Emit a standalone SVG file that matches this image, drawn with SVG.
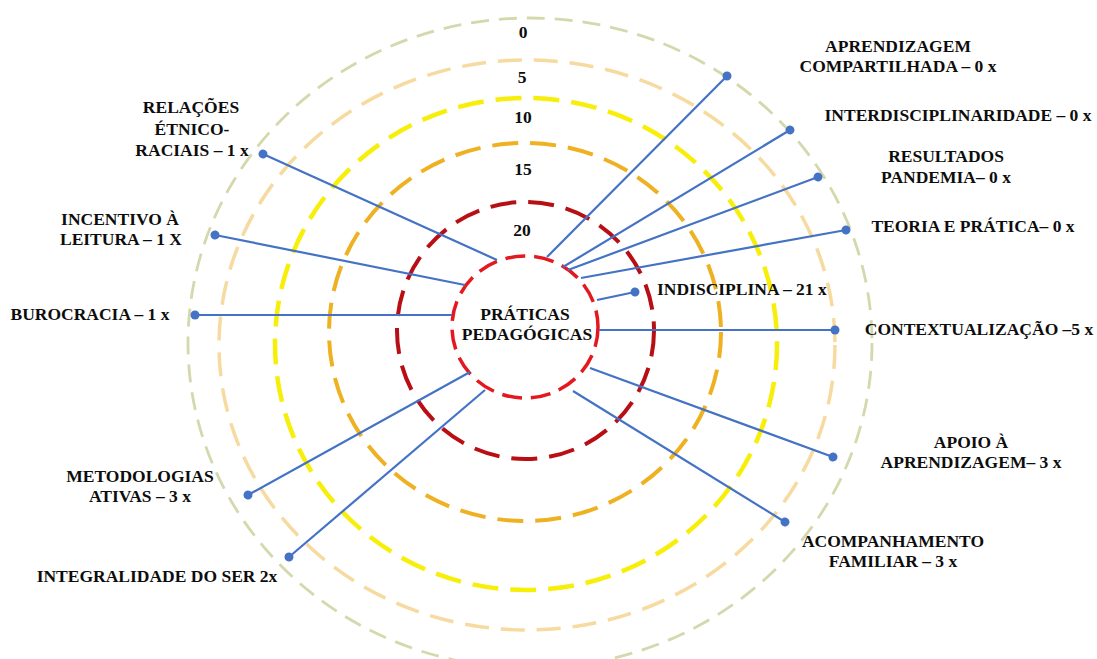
<svg xmlns="http://www.w3.org/2000/svg" width="1097" height="659" viewBox="0 0 1097 659">
<defs>
<style>
.lbl{font-family:"Liberation Serif","Times New Roman",serif;font-weight:bold;font-size:17.5px;fill:#0d0d0d;text-anchor:middle}
.st{text-anchor:start}
.ring{fill:none}
.conn{stroke:#4472C4;stroke-width:2.2;fill:none;marker-end:url(#dot)}
</style>
<marker id="dot" markerUnits="userSpaceOnUse" markerWidth="10" markerHeight="10" refX="5" refY="5" viewBox="0 0 10 10" orient="auto"><circle cx="5" cy="5" r="4.5" fill="#4472C4"/></marker>
</defs>
<rect width="1097" height="659" fill="#ffffff"/>
<g id="rings">
<ellipse class="ring" cx="530" cy="343" rx="342" ry="325" stroke="#D5D8AC" stroke-width="2.8" stroke-dasharray="18 10"/>
<ellipse class="ring" cx="527" cy="345" rx="308" ry="285" stroke="#F6DA9F" stroke-width="3.5" stroke-dasharray="24 12"/>
<ellipse class="ring" cx="526" cy="344" rx="251" ry="246" stroke="#F7EE0A" stroke-width="4.5" stroke-dasharray="26 12"/>
<ellipse class="ring" cx="525" cy="332" rx="196" ry="189" stroke="#EEB122" stroke-width="4" stroke-dasharray="26 12"/>
<ellipse class="ring" cx="525.5" cy="330.5" rx="128.5" ry="128.5" stroke="#B80F15" stroke-width="4" stroke-dasharray="26 12"/>
<text class="lbl" x="523" y="38">0</text>
<text class="lbl" x="522" y="83">5</text>
<text class="lbl" x="523" y="123">10</text>
<text class="lbl" x="523" y="175">15</text>
<text class="lbl" x="522" y="236">20</text>
</g>
<g id="center">
<ellipse class="ring" cx="525" cy="327" rx="73" ry="71" stroke="#E3191F" stroke-width="3.5" stroke-dasharray="20 9"/>
<text class="lbl" x="525" y="320">PRÁTICAS</text>
<text class="lbl" x="527" y="340">PEDAGÓGICAS</text>
</g>
<g id="connectors">
<line class="conn" x1="547" y1="257" x2="727" y2="76"/>
<line class="conn" x1="563" y1="267" x2="790" y2="130"/>
<line class="conn" x1="568" y1="270" x2="818" y2="177"/>
<line class="conn" x1="581" y1="278" x2="846" y2="230"/>
<line class="conn" x1="597" y1="300" x2="635" y2="292"/>
<line class="conn" x1="599" y1="330" x2="835" y2="330"/>
<line class="conn" x1="590" y1="368" x2="833" y2="457"/>
<line class="conn" x1="573" y1="391" x2="785" y2="522"/>
<line class="conn" x1="485" y1="390" x2="289" y2="557"/>
<line class="conn" x1="470" y1="372" x2="248" y2="495"/>
<line class="conn" x1="452" y1="315" x2="195" y2="315"/>
<line class="conn" x1="465" y1="285" x2="215" y2="235"/>
<line class="conn" x1="497" y1="260" x2="263" y2="154"/>
</g>
<g id="n-aprendizagem-compartilhada">
<text class="lbl" x="898" y="52">APRENDIZAGEM</text>
<text class="lbl" x="898" y="72">COMPARTILHADA – 0 x</text>
</g>
<g id="n-interdisciplinaridade">
<text class="lbl" x="958" y="121">INTERDISCIPLINARIDADE – 0 x</text>
</g>
<g id="n-resultados-pandemia">
<text class="lbl" x="946" y="162">RESULTADOS</text>
<text class="lbl" x="946" y="183">PANDEMIA– 0 x</text>
</g>
<g id="n-teoria-pratica">
<text class="lbl" x="973" y="232">TEORIA E PRÁTICA– 0 x</text>
</g>
<g id="n-indisciplina">
<text class="lbl st" x="657" y="295">INDISCIPLINA – 21 x</text>
</g>
<g id="n-contextualizacao">
<text class="lbl" x="979" y="335">CONTEXTUALIZAÇÃO –5 x</text>
</g>
<g id="n-apoio">
<text class="lbl" x="971" y="448">APOIO À</text>
<text class="lbl" x="971" y="468">APRENDIZAGEM– 3 x</text>
</g>
<g id="n-acompanhamento">
<text class="lbl" x="893" y="547">ACOMPANHAMENTO</text>
<text class="lbl" x="893" y="567">FAMILIAR – 3 x</text>
</g>
<g id="n-integralidade">
<text class="lbl" x="157" y="582">INTEGRALIDADE DO SER 2x</text>
</g>
<g id="n-metodologias">
<text class="lbl" x="140" y="482">METODOLOGIAS</text>
<text class="lbl" x="140" y="502">ATIVAS – 3 x</text>
</g>
<g id="n-burocracia">
<text class="lbl" x="90" y="320">BUROCRACIA – 1 x</text>
</g>
<g id="n-incentivo">
<text class="lbl" x="120" y="225">INCENTIVO À</text>
<text class="lbl" x="121" y="245">LEITURA – 1 X</text>
</g>
<g id="n-relacoes">
<text class="lbl" x="191" y="113">RELAÇÕES</text>
<text class="lbl" x="192" y="135">ÉTNICO-</text>
<text class="lbl" x="192" y="156">RACIAIS – 1 x</text>
</g>
</svg>
